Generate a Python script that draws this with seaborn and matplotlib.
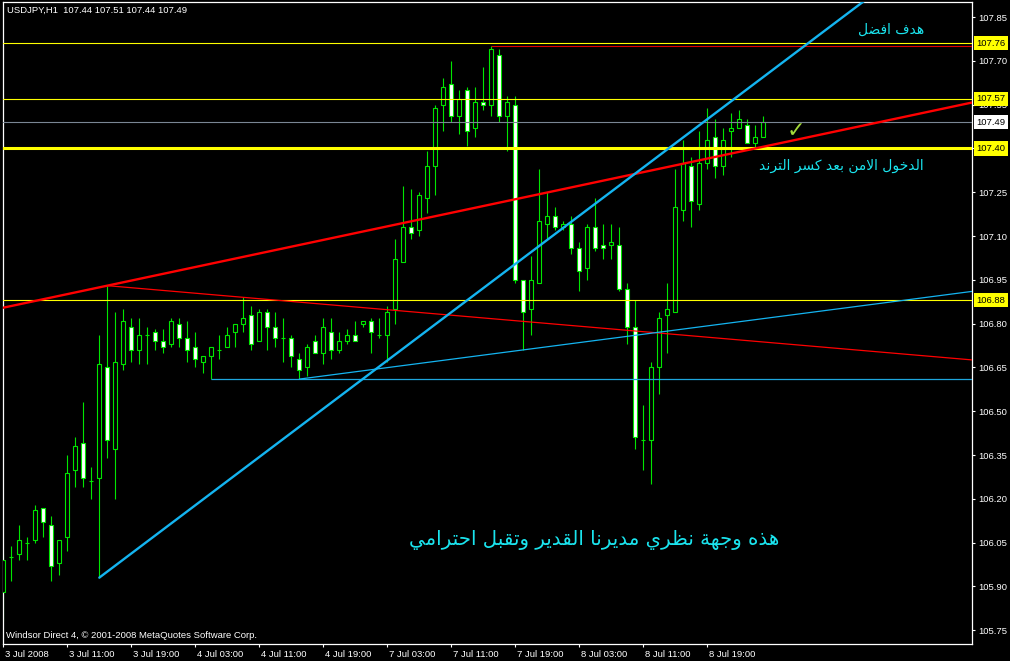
import matplotlib
matplotlib.use("Agg")
import matplotlib.pyplot as plt
from matplotlib.transforms import ScaledTranslation
import seaborn as sns

# USDJPY H1 bars (bar 0 = 3 Jul 03:00)
open_ = [105.88, 106.00, 106.01, 106.05, 106.06, 106.17, 106.11, 105.98, 106.07, 106.30,
         106.39, 106.26, 106.27, 106.65, 106.37, 106.66, 106.79, 106.71, 106.76, 106.77,
         106.74, 106.73, 106.80, 106.75, 106.72, 106.67, 106.69, 106.71, 106.72, 106.77,
         106.80, 106.83, 106.74, 106.84, 106.79, 106.75, 106.75, 106.68, 106.65, 106.74,
         106.70, 106.77, 106.71, 106.74, 106.76, 106.80, 106.81, 106.76, 106.76, 106.85,
         107.01, 107.13, 107.12, 107.23, 107.34, 107.55, 107.62, 107.51, 107.60, 107.47,
         107.56, 107.55, 107.72, 107.51, 107.55, 106.95, 106.85, 106.94, 107.14, 107.17,
         107.13, 107.14, 107.06, 106.99, 107.13, 107.07, 107.07, 107.07, 106.92, 106.79,
         106.40, 106.40, 106.65, 106.83, 106.84, 107.19, 107.34, 107.21, 107.35, 107.44,
         107.34, 107.46, 107.47, 107.48, 107.42, 107.44]
high = [106.01, 106.04, 106.11, 106.07, 106.18, 106.17, 106.14, 106.06, 106.35, 106.41,
        106.53, 106.31, 106.76, 106.93, 106.84, 106.85, 106.82, 106.82, 106.79, 106.78,
        106.78, 106.82, 106.82, 106.81, 106.77, 106.69, 106.72, 106.76, 106.79, 106.80,
        106.89, 106.86, 106.85, 106.85, 106.84, 106.82, 106.76, 106.70, 106.73, 106.76,
        106.82, 106.82, 106.77, 106.78, 106.81, 106.81, 106.82, 106.82, 106.86, 107.09,
        107.27, 107.26, 107.25, 107.39, 107.55, 107.64, 107.70, 107.60, 107.61, 107.61,
        107.68, 107.75, 107.74, 107.58, 107.58, 106.95, 107.03, 107.33, 107.25, 107.20,
        107.15, 107.17, 107.08, 107.14, 107.23, 107.14, 107.14, 107.13, 106.94, 106.88,
        106.52, 106.67, 106.84, 106.94, 107.33, 107.43, 107.37, 107.46, 107.54, 107.50,
        107.47, 107.52, 107.53, 107.50, 107.48, 107.51]
low = [105.78, 105.92, 105.99, 105.99, 106.05, 106.07, 105.92, 105.94, 106.02, 106.24,
       106.24, 106.20, 105.93, 106.34, 106.20, 106.64, 106.67, 106.66, 106.66, 106.71,
       106.70, 106.72, 106.72, 106.67, 106.65, 106.63, 106.61, 106.68, 106.72, 106.72,
       106.77, 106.71, 106.74, 106.71, 106.72, 106.67, 106.65, 106.61, 106.62, 106.70,
       106.66, 106.68, 106.70, 106.73, 106.74, 106.79, 106.70, 106.75, 106.67, 106.80,
       107.01, 107.09, 107.10, 107.18, 107.24, 107.46, 107.49, 107.45, 107.41, 107.44,
       107.53, 107.51, 107.49, 107.39, 106.94, 106.71, 106.76, 106.94, 107.09, 107.12,
       107.12, 107.04, 106.91, 106.95, 107.05, 107.02, 107.02, 106.91, 106.73, 106.37,
       106.30, 106.25, 106.56, 106.70, 106.84, 107.15, 107.13, 107.19, 107.33, 107.30,
       107.31, 107.37, 107.47, 107.42, 107.40, 107.44]
close = [105.99, 106.00, 106.06, 106.05, 106.16, 106.12, 105.97, 106.06, 106.29, 106.38,
         106.27, 106.26, 106.66, 106.40, 106.67, 106.81, 106.71, 106.76, 106.76, 106.74,
         106.72, 106.81, 106.75, 106.71, 106.68, 106.69, 106.72, 106.71, 106.76, 106.80,
         106.82, 106.73, 106.84, 106.79, 106.75, 106.75, 106.69, 106.64, 106.72, 106.70,
         106.79, 106.71, 106.74, 106.76, 106.74, 106.81, 106.77, 106.76, 106.84, 107.02,
         107.13, 107.11, 107.24, 107.34, 107.54, 107.61, 107.51, 107.57, 107.46, 107.56,
         107.55, 107.74, 107.51, 107.56, 106.95, 106.84, 106.95, 107.15, 107.17, 107.13,
         107.14, 107.06, 106.98, 107.13, 107.06, 107.06, 107.08, 106.92, 106.79, 106.41,
         106.40, 106.65, 106.82, 106.85, 107.20, 107.35, 107.22, 107.35, 107.43, 107.34,
         107.43, 107.47, 107.50, 107.42, 107.44, 107.49]

time_ticks = [0, 8, 16, 24, 32, 40, 48, 56, 64, 72, 80, 88]
time_labels = ["3 Jul 2008", "3 Jul 11:00", "3 Jul 19:00", "4 Jul 03:00", "4 Jul 11:00",
               "4 Jul 19:00", "7 Jul 03:00", "7 Jul 11:00", "7 Jul 19:00", "8 Jul 03:00",
               "8 Jul 11:00", "8 Jul 19:00"]
price_ticks = [105.75, 105.90, 106.05, 106.20, 106.35, 106.50, 106.65, 106.80,
               106.95, 107.10, 107.25, 107.40, 107.55, 107.70, 107.85]

yellow_levels = [107.76, 107.57, 106.88]
entry_level = 107.40
bid_level = 107.49

# trend lines as (bar, price) anchors
red_trend = [(13, 106.93), (94, 107.40)]
red_down = [(13, 106.93), (30, 106.89)]
blue_trend = [(12, 105.93), (88, 107.50)]
blue_up = [(37, 106.61), (65, 106.71)]
support = (26, 106.61)
top_line = (61, 107.75)

target_text = "هدف افضل"
entry_text = "الدخول الامن بعد كسر الترند"
note_text = "هذه وجهة نظري مديرنا القدير وتقبل احترامي"

# --- minimal arabic shaping (matplotlib has no complex text layout)
AR = {'ا': (0xFE8D, False), 'ب': (0xFE8F, True), 'ة': (0xFE93, False), 'ت': (0xFE95, True),
      'ج': (0xFE9D, True), 'ح': (0xFEA1, True), 'خ': (0xFEA5, True), 'د': (0xFEA9, False),
      'ذ': (0xFEAB, False), 'ر': (0xFEAD, False), 'س': (0xFEB1, True), 'ض': (0xFEBD, True),
      'ظ': (0xFEC5, True), 'ع': (0xFEC9, True), 'ف': (0xFED1, True), 'ق': (0xFED5, True),
      'ك': (0xFED9, True), 'ل': (0xFEDD, True), 'م': (0xFEE1, True), 'ن': (0xFEE5, True),
      'ه': (0xFEE9, True), 'و': (0xFEED, False), 'ي': (0xFEF1, True)}


def shape_ar(s):
	out = []
	i = 0
	while i < len(s):
		ch = s[i]
		if ch not in AR:
			out.append(ch)
			i += 1
			continue
		prev = s[i-1] if i > 0 else ''
		jp = prev in AR and AR[prev][1]
		if ch == 'ل' and i + 1 < len(s) and s[i+1] == 'ا':
			out.append(chr(0xFEFC if jp else 0xFEFB))
			i += 2
			continue
		base, dual = AR[ch]
		nxt = s[i+1] if i + 1 < len(s) else ''
		jn = dual and nxt in AR
		form = 3 if (jp and jn) else 1 if jp else 2 if jn else 0
		out.append(chr(base + form))
		i += 1
	return ''.join(out)[::-1]


def extend(pts, x0, x1):
	(a, pa), (b, pb) = pts
	k = (pb - pa) / (b - a)
	return [x0, x1], [pa + k * (x0 - a), pa + k * (x1 - a)]


sns.set_theme(style="dark", rc={"axes.facecolor": "black", "figure.facecolor": "black",
                                "axes.edgecolor": "white", "axes.grid": False})
plt.rcParams['font.family'] = ['Liberation Sans', 'DejaVu Sans']

GREEN = '#00E600'
fig = plt.figure(figsize=(10.1, 6.61), dpi=100)
ax = fig.add_axes([2.5/1010, 1-644/661, 969.5/1010, 642/661])
ax.set_facecolor('black')

XMIN, XMAX = -0.1, 121.09
ax.set_xlim(XMIN, XMAX)
ax.set_ylim(105.7027, 107.9015)

idx = list(range(len(open_)))
ax.vlines(idx, low, high, colors=GREEN, lw=0.8, zorder=2)
faces = ['black' if c >= o else 'white' for o, c in zip(open_, close)]
ax.bar(idx, [c - o for o, c in zip(open_, close)], bottom=open_, width=0.52,
       color=faces, edgecolor=GREEN, linewidth=0.8, zorder=3)

# horizontal levels
for lv in yellow_levels:
	ax.axhline(lv, color='#FFFF00', lw=0.8, zorder=4)
ax.axhline(entry_level, color='#FFFF00', lw=2.2, zorder=4)
ax.axhline(bid_level, color='#7A8694', lw=0.8, zorder=4)
ax.hlines(support[1], support[0], XMAX, color='#1EA6DC', lw=0.9, zorder=4)
ax.hlines(top_line[1], top_line[0], XMAX, color='#E00000', lw=0.8, zorder=4)

# trend lines
xs, ys = extend(red_trend, XMIN, XMAX)
sns.lineplot(x=xs, y=ys, ax=ax, color='#FF0000', lw=1.7, zorder=5)
xs, ys = extend(red_down, red_down[0][0], XMAX)
sns.lineplot(x=xs, y=ys, ax=ax, color='#FF0000', lw=0.9, zorder=5)
xs, ys = extend(blue_trend, blue_trend[0][0], XMAX)
sns.lineplot(x=xs, y=ys, ax=ax, color='#14B4F0', lw=1.7, zorder=5)
xs, ys = extend(blue_up, blue_up[0][0], XMAX)
sns.lineplot(x=xs, y=ys, ax=ax, color='#14B4F0', lw=0.9, zorder=5)

# axes styling
for sp in ax.spines.values():
	sp.set_color('white')
	sp.set_linewidth(0.9)
ax.yaxis.tick_right()
ax.set_yticks(price_ticks, [f"{p:.2f}" for p in price_ticks])
ax.set_xticks(time_ticks, time_labels)
ax.tick_params(axis='both', colors='white', labelsize=6.8, length=2.5, width=0.8,
               direction='out', pad=2)
ax.tick_params(axis='x', bottom=True)
ax.tick_params(axis='y', right=True, left=False)
off = ScaledTranslation(1.5/72, 0, fig.dpi_scale_trans)
for lab in ax.get_xticklabels():
	lab.set_horizontalalignment('left')
	lab.set_transform(lab.get_transform() + off)
ax.set_xlabel('')
ax.set_ylabel('')

# price tags on the scale
tr = ax.get_yaxis_transform()
for lv in yellow_levels + [entry_level]:
	ax.text(1.0045, lv, f"{lv:.2f}", transform=tr, ha='left', va='center', fontsize=6.8,
	        color='black', clip_on=False, zorder=10,
	        bbox=dict(boxstyle='square,pad=0.28', fc='#FFFF00', ec='none'))
ax.text(1.0045, bid_level, f"{bid_level:.2f}", transform=tr, ha='left', va='center',
        fontsize=6.8, color='black', clip_on=False, zorder=10,
        bbox=dict(boxstyle='square,pad=0.28', fc='white', ec='none'))

# annotations
CYAN = '#1AE4EE'
ax.text(111.0, 107.805, shape_ar(target_text), color=CYAN, fontsize=10,
        family=['DejaVu Sans'], ha='center', va='center', zorder=6)
ax.text(104.8, 107.34, shape_ar(entry_text), color=CYAN, fontsize=10,
        family=['DejaVu Sans'], ha='center', va='center', zorder=6)
ax.text(73.8, 106.06, shape_ar(note_text), color=CYAN, fontsize=14.2,
        family=['DejaVu Sans'], ha='center', va='center', zorder=6)
ax.text(99.1, 107.46, '✓', color='#A2D83A', fontsize=16, family=['DejaVu Sans'],
        ha='center', va='center', zorder=6)

fig.text(7/1010, 1-10.5/661, "USDJPY,H1  107.44 107.51 107.44 107.49", color='white',
         fontsize=6.8, ha='left', va='center')
fig.text(6/1010, 1-636/661, "Windsor Direct 4, © 2001-2008 MetaQuotes Software Corp.",
         color='white', fontsize=6.8, ha='left', va='center')

fig.savefig('out.png', dpi=100, facecolor='black')
